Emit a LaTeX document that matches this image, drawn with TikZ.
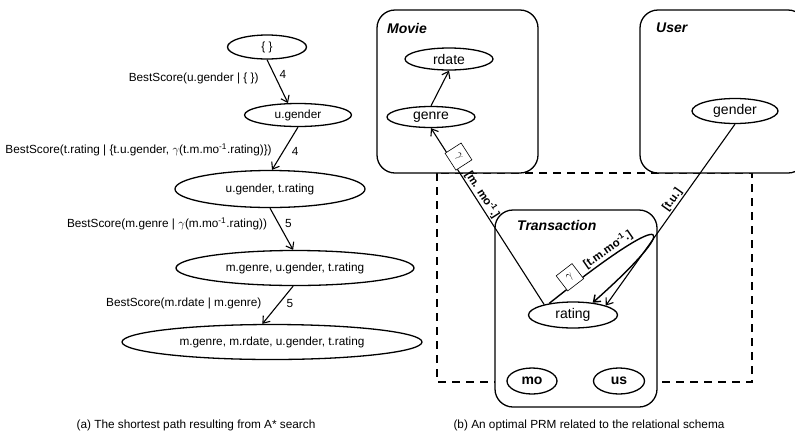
\documentclass[tikz,border=0pt]{standalone}
\usepackage{fontspec}
\setmainfont{Liberation Sans}
\usetikzlibrary{shapes.geometric,arrows.meta}

\begin{document}
\begin{tikzpicture}[x=1pt,y=-1pt,
  state/.style={ellipse,draw,line width=1.3pt,inner sep=0pt,font=\fontsize{11.8}{13}\selectfont},
  attr/.style={ellipse,draw,fill=white,line width=1.3pt,inner sep=0pt,font=\fontsize{14}{16}\selectfont},
  classbox/.style={draw,fill=white,rounded corners=18pt,line width=1.3pt},
  classname/.style={anchor=north west,inner sep=0pt,font=\fontsize{14}{16}\selectfont\bfseries\itshape},
  score/.style={inner sep=1pt,font=\fontsize{11.8}{13}\selectfont},
  slot/.style={inner sep=1pt,font=\fontsize{11.5}{13}\selectfont\bfseries},
  agg/.style={draw,fill=white,line width=0.6pt,minimum width=20pt,minimum height=19pt,inner sep=0pt,font=\fontsize{13}{14}\selectfont},
  arr/.style={-{Straight Barb[length=6pt,width=9pt]},line width=1.1pt}]
  \clip (0,0) rectangle (795,432);

  % search path
  \node[state,minimum width=79pt,minimum height=24pt] (empty) at (267,47) {\{ \}};
  \node[state,minimum width=107pt,minimum height=23pt] (ug) at (298,115) {u.gender};
  \node[state,minimum width=190pt,minimum height=37pt] (ugtr) at (270,189) {u.gender, t.rating};
  \node[state,minimum width=238pt,minimum height=35pt] (mg) at (295,268) {m.genre, u.gender, t.rating};
  \node[state,minimum width=300pt,minimum height=35pt] (all) at (272,342) {m.genre, m.rdate, u.gender, t.rating};
  \path[arr]
    (empty.south) edge node[pos=.34,right=4pt,score] {4}
                       node[pos=.43,left=16pt,score] {BestScore(u.gender | \{ \})} (ug.130)
    (ug.south) edge node[pos=.56,right=7pt,score] {4}
                    node[pos=.53,left=11pt,score] {BestScore(t.rating | \{t.u.gender, $\gamma$(t.m.mo\textsuperscript{-1}.rating)\})} (ugtr.84)
    (ugtr.south) edge node[pos=.37,right=5pt,score] {5}
                      node[pos=.37,left=10pt,score] {BestScore(m.genre | $\gamma$(m.mo\textsuperscript{-1}.rating))} (mg.96)
    (mg.-96) edge node[pos=.46,right=6pt,score] {5}
                  node[pos=.46,left=16pt,score] {BestScore(m.rdate | m.genre)} (all.118);
  \node[score] (capa) at (196,425) {(a) The shortest path resulting from A* search};

  % relational schema
  \draw[line width=1.3pt,dash pattern=on 8pt off 6pt] (437,173) rectangle (752,382);
  \node[classbox,minimum width=161pt,minimum height=163pt] (movie) at (457.5,91.5) {};
  \node[classbox,minimum width=166pt,minimum height=163pt] (user) at (723,91.5) {};
  \node[classbox,minimum width=162pt,minimum height=197pt] (trans) at (576,308.5) {};
  \node[classname] (movielbl) at (387,23) {Movie};
  \node[classname] (userlbl) at (656,23) {User};
  \node[classname] (translbl) at (517,220) {Transaction};

  \node[attr,minimum width=88pt,minimum height=22pt] (rdate) at (449,59) {rdate};
  \node[attr,minimum width=88pt,minimum height=21pt] (genre) at (431,117) {genre};
  \node[attr,minimum width=86pt,minimum height=25pt] (gender) at (735,111) {gender};
  \node[attr,minimum width=89pt,minimum height=26pt] (rating) at (573,315) {rating};
  \node[attr,minimum width=50pt,minimum height=26pt,font=\fontsize{14}{16}\selectfont\bfseries] (mo) at (532,381) {mo};
  \node[attr,minimum width=51pt,minimum height=26pt,font=\fontsize{14}{16}\selectfont\bfseries] (us) at (619,381) {us};

  \path[arr]
    (genre.north) edge (rdate.south)
    (rating.160) edge node[pos=.815,sloped,above=-2pt,agg] (aggm) {$\gamma$}
                      node[pos=.6,sloped,above,slot] {[m. mo\textsuperscript{-1}.]} (genre.south)
    (gender.south) edge node[pos=.44,sloped,above,slot] {[t.u.]} (rating.16);
  \draw[arr,line width=1.4pt] (rating.154) .. controls +(130,-104) and +(88,-78) .. (rating.32)
    node[pos=.07,sloped,above=-2pt,agg] (aggt) {$\gamma$}
    node[pos=.2,sloped,above,slot] {[t.m.mo\textsuperscript{-1}.]};
  \node[score] (capb) at (589,425) {(b) An optimal PRM related to the relational schema};
\end{tikzpicture}
\end{document}
